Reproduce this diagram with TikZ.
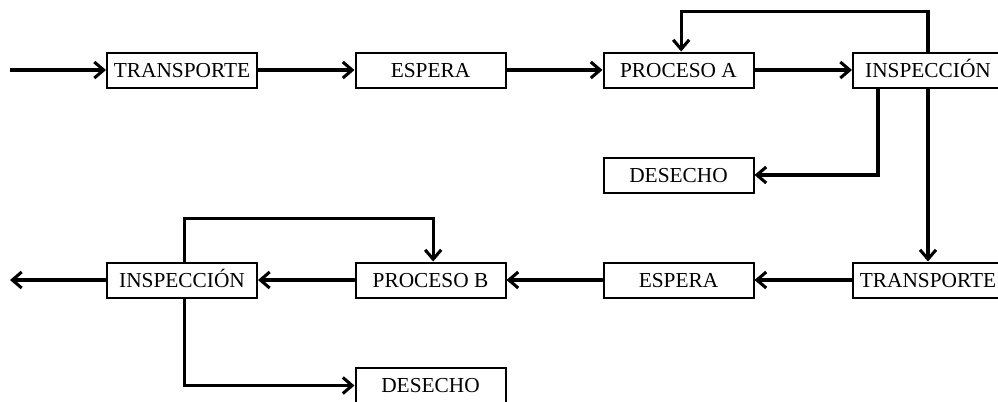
\documentclass[tikz,border=0pt]{standalone}
\usepackage{fontspec}
\setmainfont{Liberation Serif}
\usetikzlibrary{arrows.meta}
\begin{document}
\begin{tikzpicture}[x=0.75pt,y=-0.75pt,
  stepbox/.style={draw, line width=1.5pt, minimum width=112.5pt, minimum height=26.25pt,
    inner sep=0pt, text height=10.6pt, text depth=0pt,
    font=\fontsize{16}{17}\selectfont},
  flow/.style={line width=2.3pt, -{Straight Barb[length=7pt,width=12pt,line width=2.3pt]}}]
\useasboundingbox (0,0) rectangle (998,401);
\clip (0,0) rectangle (998,401);
% first row
\node[stepbox] (t1) at (182,70) {TRANSPORTE};
\node[stepbox] (e1) at (430.5,70) {ESPERA};
\node[stepbox] (pa) at (678.5,70) {PROCESO A};
\node[stepbox] (i1) at (928,70) {INSPECCIÓN};
\node[stepbox] (d1) at (678.5,175) {DESECHO};
% second row
\node[stepbox] (t2) at (928,280) {TRANSPORTE};
\node[stepbox] (e2) at (678.5,280) {ESPERA};
\node[stepbox] (pb) at (430.5,280) {PROCESO B};
\node[stepbox] (i2) at (182,280) {INSPECCIÓN};
\node[stepbox] (d2) at (430.5,385.5) {DESECHO};
\coordinate (in) at (10,70);
\coordinate (out) at (10,280);
% main flow
\draw[flow] (in) -- (t1);
\draw[flow] (t1) -- (e1);
\draw[flow] (e1) -- (pa);
\draw[flow] (pa) -- (i1);
\draw[flow] (i1.south) -- (t2.north);
\draw[flow] (t2) -- (e2);
\draw[flow] (e2) -- (pb);
\draw[flow] (pb) -- (i2);
\draw[flow] (i2) -- (out);
% rework loops
\draw[flow] (i1.north) -- ++(0,-40) -| ([xshift=2pt]pa.north);
\draw[flow] ([xshift=2pt]i2.north) -- ++(0,-43) -| ([xshift=2pt]pb.north);
% rejects
\draw[flow] ([xshift=-37.5pt]i1.south) |- (d1.east);
\draw[flow] ([xshift=2pt]i2.south) |- (d2.west);
\end{tikzpicture}
\end{document}
